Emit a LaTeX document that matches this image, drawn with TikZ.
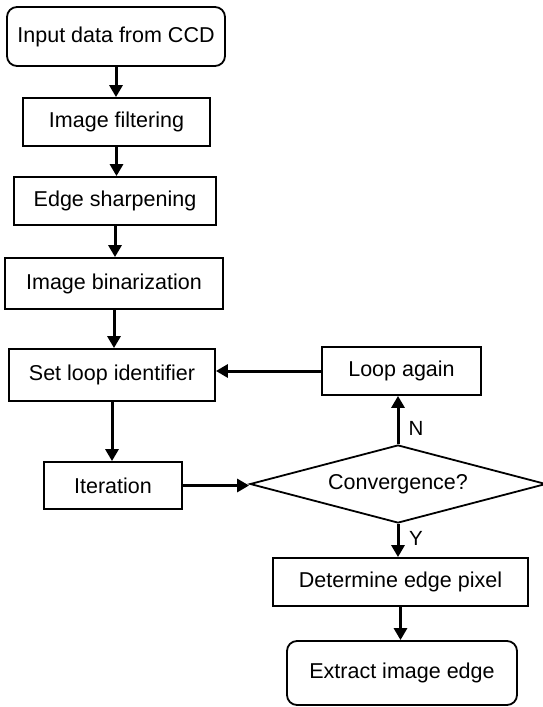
\documentclass[tikz,border=0pt]{standalone}
\usepackage{fontspec}
\setmainfont{Liberation Sans}
\usetikzlibrary{shapes.geometric,arrows.meta}
\tikzset{
  box/.style={draw=black, line width=1.8pt, inner sep=0pt, font=\fontsize{21.5}{24}\selectfont},
  rbox/.style={box, rounded corners=10pt},
  flow/.style={draw=black, line width=3pt, -{Triangle[length=12pt,width=13pt]}},
  lbl/.style={font=\fontsize{20.5}{23}\selectfont, inner sep=0pt}
}
\begin{document}
\begin{tikzpicture}[x=1pt,y=-1pt]
\useasboundingbox (0,0) rectangle (543,707);
\node[rbox, minimum width=218pt, minimum height=59pt] (in) at (116,36.5) {Input data from CCD};
\node[box, minimum width=187pt, minimum height=48pt] (filt) at (116.5,122) {Image filtering};
\node[box, minimum width=202pt, minimum height=48pt] (sharp) at (115,201) {Edge sharpening};
\node[box, minimum width=218pt, minimum height=51pt] (bin) at (114,283.5) {Image binarization};
\node[box, minimum width=206pt, minimum height=52pt] (set) at (112,375) {Set loop identifier};
\node[box, minimum width=159pt, minimum height=48pt] (again) at (401.5,371) {Loop again};
\node[box, minimum width=138pt, minimum height=47pt] (iter) at (113,485.5) {Iteration};
\node[box, diamond, aspect=3.8, minimum width=296pt, minimum height=78pt] (conv) at (398,484) {Convergence?};
\node[box, minimum width=255pt, minimum height=48pt] (det) at (400.5,582) {Determine edge pixel};
\node[rbox, minimum width=230pt, minimum height=64pt] (ext) at (402,673) {Extract image edge};

\draw[flow] (in.south) -- (in.south |- filt.north);
\draw[flow] (filt.south) -- (filt.south |- sharp.north);
\draw[flow] (sharp.south) -- (sharp.south |- bin.north);
\draw[flow] (bin.south) -- (bin.south |- set.north);
\draw[flow] (set.south) -- (set.south |- iter.north);
\draw[flow] (iter.east) -- (iter.east -| conv.west);
\draw[flow] (conv.north) -- (conv.north |- again.south);
\draw[flow] (again.west) -- (again.west -| set.east);
\draw[flow] (conv.south) -- (conv.south |- det.north);
\draw[flow] (det.south) -- (det.south |- ext.north);

\node[lbl] (n) at (416,428) {N};
\node[lbl] (y) at (416,538) {Y};
\end{tikzpicture}
\end{document}
